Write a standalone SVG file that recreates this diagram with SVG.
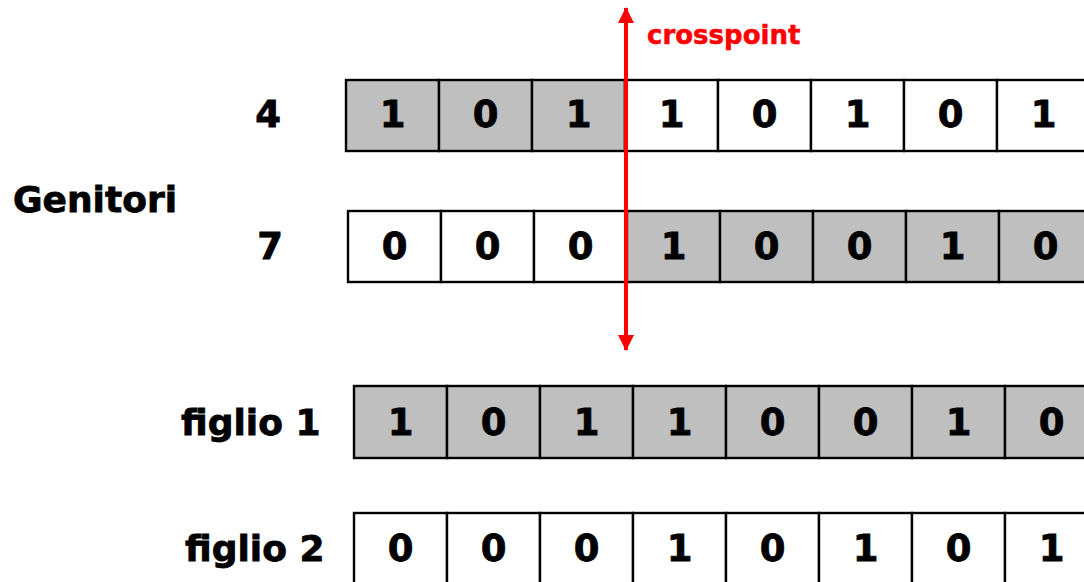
<svg xmlns="http://www.w3.org/2000/svg" width="1084" height="582" viewBox="0 0 1084 582">
<style>
.c{stroke:#000;stroke-width:2.4;fill:#fff}
.g{fill:#bfbfbf}
.d{font-family:"DejaVu Sans",Verdana,sans-serif;font-weight:bold;font-size:37px;text-anchor:middle;fill:#000;stroke:#000;stroke-width:0.8}
.l{font-family:"DejaVu Sans",Verdana,sans-serif;font-weight:bold;font-size:36px;fill:#000;stroke:#000;stroke-width:0.8}
</style>
<defs>
<marker id="ah" viewBox="0 0 16 16" refX="15" refY="8" markerWidth="16" markerHeight="16" markerUnits="userSpaceOnUse" orient="auto-start-reverse">
<path d="M0,0 L16,8 L0,16 z" fill="#ff0000"/>
</marker>
</defs>
<rect width="1084" height="582" fill="#fff"/>
<text class="l" x="13" y="212">Genitori</text>
<g id="p4">
<text class="d" x="268" y="127">4</text>
<rect class="c g" x="346" y="80" width="93" height="71"/>
<rect class="c g" x="439" y="80" width="93" height="71"/>
<rect class="c g" x="532" y="80" width="93" height="71"/>
<rect class="c" x="625" y="80" width="93" height="71"/>
<rect class="c" x="718" y="80" width="93" height="71"/>
<rect class="c" x="811" y="80" width="93" height="71"/>
<rect class="c" x="904" y="80" width="93" height="71"/>
<rect class="c" x="997" y="80" width="93" height="71"/>
<text class="d" x="392.5" y="127">1</text>
<text class="d" x="485.5" y="127">0</text>
<text class="d" x="578.5" y="127">1</text>
<text class="d" x="671.5" y="127">1</text>
<text class="d" x="764.5" y="127">0</text>
<text class="d" x="857.5" y="127">1</text>
<text class="d" x="950.5" y="127">0</text>
<text class="d" x="1043.5" y="127">1</text>
</g>
<g id="p7">
<text class="d" x="270" y="259">7</text>
<rect class="c" x="348" y="211" width="93" height="71"/>
<rect class="c" x="441" y="211" width="93" height="71"/>
<rect class="c" x="534" y="211" width="93" height="71"/>
<rect class="c g" x="627" y="211" width="93" height="71"/>
<rect class="c g" x="720" y="211" width="93" height="71"/>
<rect class="c g" x="813" y="211" width="93" height="71"/>
<rect class="c g" x="906" y="211" width="93" height="71"/>
<rect class="c g" x="999" y="211" width="93" height="71"/>
<text class="d" x="394.5" y="259">0</text>
<text class="d" x="487.5" y="259">0</text>
<text class="d" x="580.5" y="259">0</text>
<text class="d" x="673.5" y="259">1</text>
<text class="d" x="766.5" y="259">0</text>
<text class="d" x="859.5" y="259">0</text>
<text class="d" x="952.5" y="259">1</text>
<text class="d" x="1045.5" y="259">0</text>
</g>
<g id="f1">
<text class="l" x="181" y="435">figlio 1</text>
<rect class="c g" x="354" y="386" width="93" height="72"/>
<rect class="c g" x="447" y="386" width="93" height="72"/>
<rect class="c g" x="540" y="386" width="93" height="72"/>
<rect class="c g" x="633" y="386" width="93" height="72"/>
<rect class="c g" x="726" y="386" width="93" height="72"/>
<rect class="c g" x="819" y="386" width="93" height="72"/>
<rect class="c g" x="912" y="386" width="93" height="72"/>
<rect class="c g" x="1005" y="386" width="93" height="72"/>
<text class="d" x="400.5" y="435">1</text>
<text class="d" x="493.5" y="435">0</text>
<text class="d" x="586.5" y="435">1</text>
<text class="d" x="679.5" y="435">1</text>
<text class="d" x="772.5" y="435">0</text>
<text class="d" x="865.5" y="435">0</text>
<text class="d" x="958.5" y="435">1</text>
<text class="d" x="1051.5" y="435">0</text>
</g>
<g id="f2">
<text class="l" x="185" y="561">figlio 2</text>
<rect class="c" x="354" y="513" width="93" height="80"/>
<rect class="c" x="447" y="513" width="93" height="80"/>
<rect class="c" x="540" y="513" width="93" height="80"/>
<rect class="c" x="633" y="513" width="93" height="80"/>
<rect class="c" x="726" y="513" width="93" height="80"/>
<rect class="c" x="819" y="513" width="93" height="80"/>
<rect class="c" x="912" y="513" width="93" height="80"/>
<rect class="c" x="1005" y="513" width="93" height="80"/>
<text class="d" x="400.5" y="561">0</text>
<text class="d" x="493.5" y="561">0</text>
<text class="d" x="586.5" y="561">0</text>
<text class="d" x="679.5" y="561">1</text>
<text class="d" x="772.5" y="561">0</text>
<text class="d" x="865.5" y="561">1</text>
<text class="d" x="958.5" y="561">0</text>
<text class="d" x="1051.5" y="561">1</text>
</g>
<g id="connectors">
<line x1="626" y1="350" x2="626" y2="8" stroke="#ff0000" stroke-width="4" marker-start="url(#ah)" marker-end="url(#ah)"/>
<text x="647" y="44" font-family="DejaVu Sans,Verdana,sans-serif" font-weight="bold" font-size="26" fill="#ff0000" stroke="#ff0000" stroke-width="0.5">crosspoint</text>
</g>
</svg>
